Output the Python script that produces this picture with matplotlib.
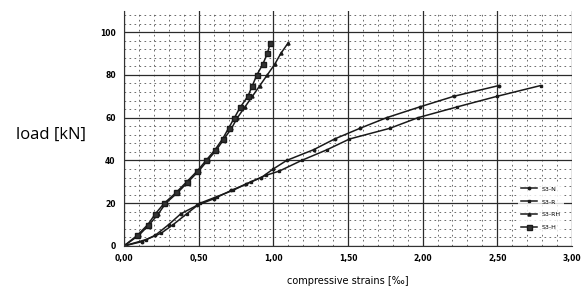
import matplotlib.pyplot as plt
from matplotlib.ticker import MultipleLocator, FuncFormatter

# S3-N (dots)
n_x = [0, 0.12, 0.21, 0.30, 0.38, 0.49, 0.60, 0.72, 0.82, 0.92, 1.00, 1.09, 1.27, 1.41, 1.58, 1.76, 1.98, 2.21, 2.51]
n_y = [0, 2, 5, 10, 15, 19, 22, 26, 29, 32, 36, 40, 45, 50, 55, 60, 65, 70, 75]
# S3-R (small squares)
r_x = [0, 0.15, 0.25, 0.33, 0.42, 0.51, 0.62, 0.73, 0.85, 0.95, 1.04, 1.19, 1.36, 1.51, 1.78, 1.97, 2.23, 2.50, 2.79]
r_y = [0, 3, 6, 10, 15, 20, 23, 26, 30, 33, 35, 40, 45, 50, 55, 60, 65, 70, 75]
# S3-RH
rh_x = [0, 0.10, 0.17, 0.23, 0.28, 0.36, 0.43, 0.50, 0.56, 0.62, 0.67, 0.72, 0.76, 0.81, 0.86, 0.91, 0.96, 1.01, 1.05, 1.10]
rh_y = [0, 5, 10, 15, 20, 25, 30, 35, 40, 45, 50, 55, 60, 65, 70, 75, 80, 85, 90, 95]
# S3-H (big squares)
h_x = [0, 0.09, 0.16, 0.21, 0.27, 0.35, 0.42, 0.49, 0.55, 0.61, 0.66, 0.70, 0.74, 0.78, 0.83, 0.86, 0.89, 0.93, 0.96, 0.98]
h_y = [0, 5, 10, 15, 20, 25, 30, 35, 40, 45, 50, 55, 60, 65, 70, 75, 80, 85, 90, 95]

fig = plt.figure(figsize=(5.81, 2.90), dpi=100)
ax = fig.add_axes([0.2134, 0.152, 0.771, 0.811])

ax.plot(n_x, n_y, '-o', color='#1a1a1a', lw=1.1, ms=1.8, label='S3-N')
ax.plot(r_x, r_y, '-s', color='#1a1a1a', lw=1.1, ms=2.0, label='S3-R')
ax.plot(rh_x, rh_y, '-^', color='#1a1a1a', lw=1.1, ms=2.2, label='S3-RH')
ax.plot(h_x, h_y, '-s', color='#1a1a1a', lw=1.1, ms=3.6, mfc='#333333', label='S3-H')

ax.set_xlim(0, 3.0)
ax.set_ylim(0, 110)
ax.xaxis.set_major_locator(MultipleLocator(0.5))
ax.xaxis.set_minor_locator(MultipleLocator(0.1))
ax.yaxis.set_major_locator(MultipleLocator(20))
ax.yaxis.set_minor_locator(MultipleLocator(4))
ax.xaxis.set_major_formatter(FuncFormatter(lambda v, p: f"{v:.2f}".replace('.', ',')))
ax.yaxis.set_major_formatter(FuncFormatter(lambda v, p: f"{v:.0f}" if v <= 100 else ""))

ax.grid(True, which='major', color='#2a2a2a', lw=0.9, ls='-')
ax.grid(True, which='minor', color='#555555', lw=0.6, ls=(0, (2, 4)))
ax.set_axisbelow(True)
for s in ['top', 'right']:
    ax.spines[s].set_visible(False)
ax.spines['left'].set_color('#333333')
ax.spines['bottom'].set_color('#333333')
ax.tick_params(which='both', length=0, labelsize=5.5, pad=6)
for lbl in ax.get_xticklabels() + ax.get_yticklabels():
    lbl.set_fontweight('bold')

ax.set_xlabel('compressive strains [‰]', fontsize=7, labelpad=9)
fig.text(0.087, 0.535, 'load [kN]', fontsize=12, ha='center', va='center', family='Open Sans')

leg = ax.legend(loc='lower right', bbox_to_anchor=(0.99, 0.04), frameon=True, fontsize=4.5,
                handlelength=2.5, labelspacing=1.2, borderpad=0.5)
leg.get_frame().set_edgecolor('none')
leg.get_frame().set_facecolor('white')

fig.savefig('out.png', dpi=100)
